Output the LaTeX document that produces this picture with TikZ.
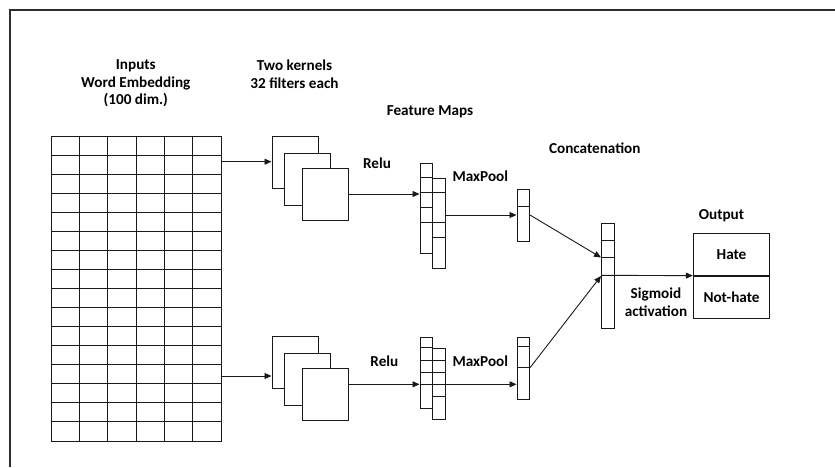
\documentclass[tikz,border=0pt]{standalone}
\usepackage{fontspec}
\setmainfont{Carlito}
\usepackage{tikz}
\usetikzlibrary{arrows.meta,calc,positioning}
\definecolor{boxline}{RGB}{25,25,25}
\definecolor{framegray}{RGB}{45,45,45}
\newcommand{\vecbox}[5]{% name, left, top, bottom, dividers
  \node[vecnode,minimum height={(#4-#3)*1pt}] (#1) at (#2,#3) {};%
  \foreach \vD in {#5} {\draw[link] (#1.west |- 0,\vD) -- (#1.east |- 0,\vD);}%
}
\newcommand{\kernelstack}[2]{%
  \node[kernelbox] (#1a) at (271.5,#2) {};%
  \node[kernelbox] (#1b) at (284,#2+16.7) {};%
  \node[kernelbox] (#1c) at (301.5,#2+32.3) {};%
}
\tikzset{
  link/.style={draw=boxline,line width=0.9pt},
  conn/.style={link,-{Triangle[length=7pt,width=6pt]}},
  vecnode/.style={link,fill=white,inner sep=0pt,minimum width=12.6pt,anchor=north west},
  kernelbox/.style={link,fill=white,inner sep=0pt,minimum width=46pt,minimum height=52pt,anchor=north west},
  outcell/.style={link,inner sep=0pt,minimum width=76.4pt,minimum height=42pt,font=\bfseries\fontsize{15.2}{17.7}\selectfont},
  lbl/.style={font=\bfseries\fontsize{15.2}{17.7}\selectfont,align=center,inner sep=0pt}
}
\begin{document}
\begin{tikzpicture}[x=1pt,y=-1pt]
  \useasboundingbox (0,0) rectangle (835,467);
  \draw[framegray,line width=1.1pt] (10,467) -- (10,10) -- (835,10);
  % input matrix
  \node[link,inner sep=0pt,minimum width=169.7pt,minimum height=305pt,anchor=north west] (embed) at (51.3,136) {};
  \foreach \c in {1,...,5} \draw[link] ($(embed.north west)+(\c*28.28,0)$) -- ($(embed.south west)+(\c*28.28,0)$);
  \foreach \r in {1,...,15} \draw[link] ($(embed.north west)+(0,\r*19.06)$) -- ($(embed.north east)+(0,\r*19.06)$);
  \kernelstack{t}{136}
  \kernelstack{b}{336}
  % feature maps and pooling
  \vecbox{tfa}{419.5}{162.5}{252.7}{177.7,192.7,207.7,222.7}
  \vecbox{tfb}{432}{177.7}{267.7}{192.7,222.7,237.7}
  \vecbox{bfa}{419.5}{336.7}{407.7}{347.7,360,372.7,384.3}
  \vecbox{bfb}{432}{347.7}{419.3}{360,372.7,384.3,396}
  \vecbox{tpool}{516.5}{189}{241}{206.7}
  \vecbox{bpool}{516.5}{336.7}{399}{346.7,367.7}
  \vecbox{concat}{601}{222.7}{327.7}{240,257.5,275.3}
  \node[outcell] (hate) at (731.5,254.2) {Hate};
  \node[outcell,below=0pt of hate] (nothate) {Not-hate};
  % connectors
  \draw[conn] (embed.east |- 0,161.7) -- (ta.west |- 0,161.7);
  \draw[conn] (embed.east |- 0,376) -- (ba.west |- 0,376);
  \draw[conn] (tc.east |- 0,194) -- (tfa.west |- 0,194);
  \draw[conn] (bc.east |- 0,384.3) -- (bfa.west |- 0,384.3);
  \draw[conn] (tfb.east |- 0,215) -- (tpool.west |- 0,215);
  \draw[conn] (bfb.east |- 0,384.3) -- (bpool.west |- 0,384.3);
  \draw[conn] (tpool.east |- 0,215) -- (concat.west |- 0,257.5);
  \draw[conn] (bpool.east |- 0,367.7) -- (concat.west |- 0,276);
  \draw[conn] (concat.west |- 0,275.3) -- (hate.south west);
  % labels
  \node[lbl] (inlbl) at (135.8,83.3) {Inputs\\Word Embedding\\(100 dim.)};
  \node[lbl] (kerlbl) at (294.5,74.5) {Two kernels\\32 filters each};
  \node[lbl] (fmlbl) at (430,111.7) {Feature Maps};
  \node[lbl] (relut) at (377,163.3) {Relu};
  \node[lbl] (poolt) at (480.3,176.7) {MaxPool};
  \node[lbl] (relub) at (384.4,361) {Relu};
  \node[lbl] (poolb) at (480.3,361) {MaxPool};
  \node[lbl] (catlbl) at (594.8,148.7) {Concatenation};
  \node[lbl] (outlbl) at (721.5,215.7) {Output};
  \node[lbl] (siglbl) at (656,302.5) {Sigmoid\\activation};
\end{tikzpicture}
\end{document}
